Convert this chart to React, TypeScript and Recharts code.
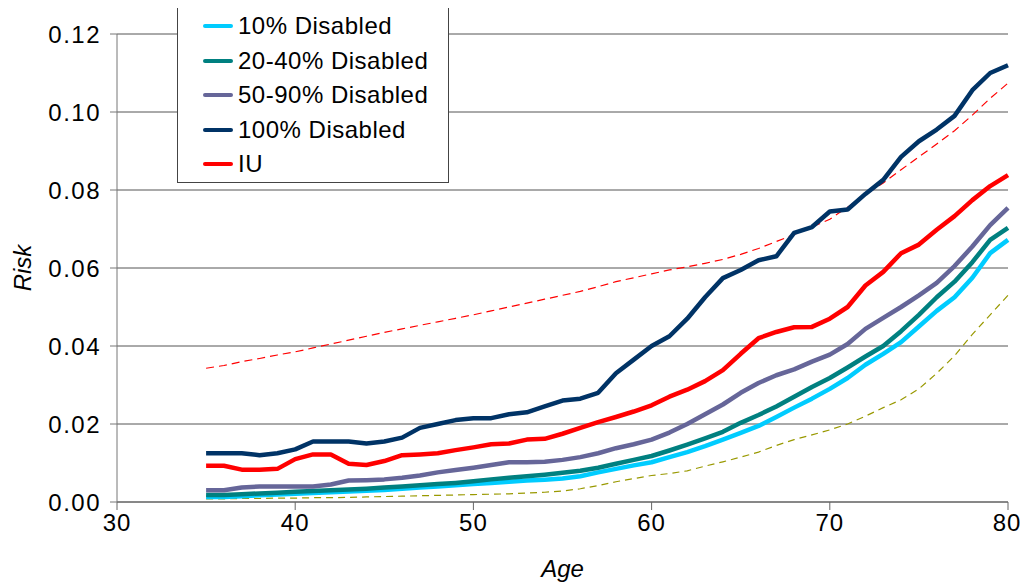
import React from 'react';
import { LineChart, Line, XAxis, YAxis, CartesianGrid, Legend } from 'recharts';

const ages = [35,36,37,38,39,40,41,42,43,44,45,46,47,48,49,50,51,52,53,54,55,56,57,58,59,60,61,62,63,64,65,66,67,68,69,70,71,72,73,74,75,76,77,78,79,80];

const dis10 = [0.0013,0.0013,0.0015,0.0017,0.0019,0.0021,0.0023,0.0025,0.0027,0.0029,0.0031,0.0034,0.0037,0.0040,0.0043,0.0046,0.0049,0.0052,0.0055,0.0057,0.0060,0.0066,0.0076,0.0085,0.0094,0.0102,0.0115,0.0128,0.0143,0.0160,0.0177,0.0195,0.0218,0.0242,0.0265,0.0290,0.0318,0.0352,0.0380,0.0410,0.0450,0.0490,0.0525,0.0575,0.0638,0.0672];
const dis2040 = [0.0018,0.0018,0.0020,0.0022,0.0024,0.0026,0.0028,0.0030,0.0032,0.0034,0.0037,0.0040,0.0043,0.0046,0.0049,0.0053,0.0058,0.0062,0.0066,0.0070,0.0075,0.0080,0.0088,0.0098,0.0108,0.0118,0.0132,0.0147,0.0163,0.0180,0.0203,0.0223,0.0245,0.0270,0.0295,0.0318,0.0345,0.0373,0.0400,0.0438,0.0480,0.0525,0.0565,0.0615,0.0672,0.0703];
const dis5090 = [0.0030,0.0030,0.0037,0.0040,0.0040,0.0040,0.0040,0.0045,0.0055,0.0056,0.0058,0.0062,0.0068,0.0076,0.0082,0.0088,0.0095,0.0102,0.0102,0.0103,0.0108,0.0115,0.0125,0.0138,0.0148,0.0160,0.0178,0.0200,0.0225,0.0250,0.0280,0.0305,0.0325,0.0340,0.0360,0.0378,0.0405,0.0444,0.0472,0.0500,0.0530,0.0562,0.0605,0.0655,0.0710,0.0754];
const dis100 = [0.0125,0.0125,0.0125,0.0120,0.0125,0.0135,0.0155,0.0155,0.0155,0.0150,0.0155,0.0165,0.0190,0.0200,0.0210,0.0215,0.0215,0.0225,0.0230,0.0245,0.0260,0.0265,0.0280,0.0330,0.0365,0.0400,0.0425,0.0470,0.0525,0.0574,0.0595,0.0620,0.0630,0.0690,0.0705,0.0745,0.0750,0.0790,0.0826,0.0885,0.0925,0.0955,0.0990,0.1056,0.1100,0.1120];
const iu = [0.0093,0.0093,0.0083,0.0083,0.0085,0.0110,0.0122,0.0122,0.0098,0.0095,0.0105,0.0120,0.0122,0.0125,0.0133,0.0140,0.0148,0.0150,0.0160,0.0162,0.0175,0.0190,0.0205,0.0218,0.0232,0.0248,0.0270,0.0288,0.0310,0.0338,0.0380,0.0420,0.0436,0.0448,0.0449,0.0470,0.0500,0.0555,0.0590,0.0638,0.0660,0.0698,0.0733,0.0774,0.0810,0.0838];
const iuUpper = [0.0343,0.0350,0.0360,0.0368,0.0377,0.0385,0.0395,0.0405,0.0415,0.0425,0.0435,0.0444,0.0453,0.0462,0.0471,0.0480,0.0490,0.0500,0.0510,0.0520,0.0530,0.0540,0.0552,0.0565,0.0575,0.0585,0.0595,0.0603,0.0612,0.0622,0.0635,0.0650,0.0668,0.0686,0.0705,0.0725,0.0756,0.0788,0.0818,0.0852,0.0885,0.0918,0.0952,0.0992,0.1035,0.1074];
const lowerBound = [0.0008,0.0008,0.0009,0.0009,0.0010,0.0010,0.0011,0.0011,0.0012,0.0013,0.0014,0.0015,0.0016,0.0017,0.0018,0.0019,0.0020,0.0021,0.0023,0.0025,0.0028,0.0034,0.0042,0.0052,0.0060,0.0068,0.0073,0.0080,0.0092,0.0103,0.0115,0.0128,0.0145,0.0160,0.0172,0.0185,0.0200,0.0220,0.0242,0.0262,0.0290,0.0330,0.0375,0.0430,0.0480,0.0530];

const xTicks = [30, 40, 50, 60, 70, 80];
const yTicks = [0, 0.02, 0.04, 0.06, 0.08, 0.10, 0.12];
const legendOrder = ['10% Disabled', '20-40% Disabled', '50-90% Disabled', '100% Disabled', 'IU'];

const data = ages.map((age, i) => ({
  age,
  d10: dis10[i],
  d2040: dis2040[i],
  d5090: dis5090[i],
  d100: dis100[i],
  iu: iu[i],
  iuUpper: iuUpper[i],
  lower: lowerBound[i],
}));

const FONT = '"Liberation Sans", Arial, sans-serif';

const renderLegend = (props: any) => {
  const payload = (props.payload || []) as any[];
  const items = legendOrder
    .map((name) => payload.find((p) => p.value === name))
    .filter(Boolean);
  return (
    <div style={{ paddingTop: 1 }}>
      {items.map((entry: any) => (
        <div key={entry.value} style={{ height: 34.5, display: 'flex', alignItems: 'center', fontFamily: FONT, fontSize: 24, color: '#000' }}>
          <div style={{ marginLeft: 25, width: 30, height: 4, borderRadius: 2, background: entry.color }} />
          <span style={{ marginLeft: 5, letterSpacing: 0.5, whiteSpace: 'nowrap' }}>{entry.value}</span>
        </div>
      ))}
    </div>
  );
};

const RiskLabel = (props: any) => {
  const vb = props.viewBox || { x: 0, y: 0, width: 0, height: 0 };
  const cx = vb.x + 14;
  const cy = vb.y + vb.height / 2;
  return (
    <text x={cx} y={cy} transform={`rotate(-90 ${cx} ${cy})`} textAnchor="middle" dominantBaseline="central" fontFamily={FONT} fontSize={24} fontStyle="italic" fill="#000">Risk</text>
  );
};

const AgeLabel = (props: any) => {
  const vb = props.viewBox || { x: 0, y: 0, width: 0, height: 0 };
  const cx = vb.x + vb.width / 2;
  const cy = vb.y + 66;
  return (
    <text x={cx} y={cy} textAnchor="middle" dominantBaseline="central" fontFamily={FONT} fontSize={24} fontStyle="italic" fill="#000">Age</text>
  );
};

export default function App() {
  return (
    <div style={{ width: 1012, height: 580 }}>
      <LineChart width={1012} height={580} data={data} margin={{ top: 26, right: 12, bottom: 0, left: 0 }}>
        <CartesianGrid vertical={false} stroke="#555" strokeWidth={1} />
        <XAxis
          dataKey="age"
          type="number"
          domain={[30, 80]}
          ticks={xTicks}
          height={86}
          tickSize={8}
          tickMargin={4}
          stroke="#666"
          tick={{ fill: '#000', fontSize: 24, fontFamily: FONT, letterSpacing: 1 }}
          label={<AgeLabel />}
        />
        <YAxis
          type="number"
          domain={[0, 0.12]}
          ticks={yTicks}
          width={109}
          tickSize={7}
          tickMargin={9}
          stroke="#777"
          tickFormatter={(v: number) => v.toFixed(2)}
          tick={{ fill: '#000', fontSize: 24, fontFamily: FONT, letterSpacing: 1.5 }}
          label={<RiskLabel />}
        />
        <Legend
          layout="vertical"
          align="center"
          verticalAlign="middle"
          content={renderLegend}
          wrapperStyle={{ left: 169, top: -1, width: 272, height: 176, border: '1px solid #444', background: '#fff', boxSizing: 'border-box' }}
        />
        <Line dataKey="iuUpper" name="IU upper" stroke="#FF0000" strokeWidth={1.2} strokeDasharray="8 5" dot={false} legendType="none" isAnimationActive={false} />
        <Line dataKey="lower" name="Lower" stroke="#999900" strokeWidth={1.2} strokeDasharray="7 5" dot={false} legendType="none" isAnimationActive={false} />
        <Line dataKey="d10" name="10% Disabled" stroke="#00CCFF" strokeWidth={4.5} strokeLinejoin="round" dot={false} isAnimationActive={false} />
        <Line dataKey="d2040" name="20-40% Disabled" stroke="#008080" strokeWidth={4.5} strokeLinejoin="round" dot={false} isAnimationActive={false} />
        <Line dataKey="d5090" name="50-90% Disabled" stroke="#666699" strokeWidth={4.5} strokeLinejoin="round" dot={false} isAnimationActive={false} />
        <Line dataKey="d100" name="100% Disabled" stroke="#003366" strokeWidth={4.5} strokeLinejoin="round" dot={false} isAnimationActive={false} />
        <Line dataKey="iu" name="IU" stroke="#FF0000" strokeWidth={4.5} strokeLinejoin="round" dot={false} isAnimationActive={false} />
      </LineChart>
    </div>
  );
}
